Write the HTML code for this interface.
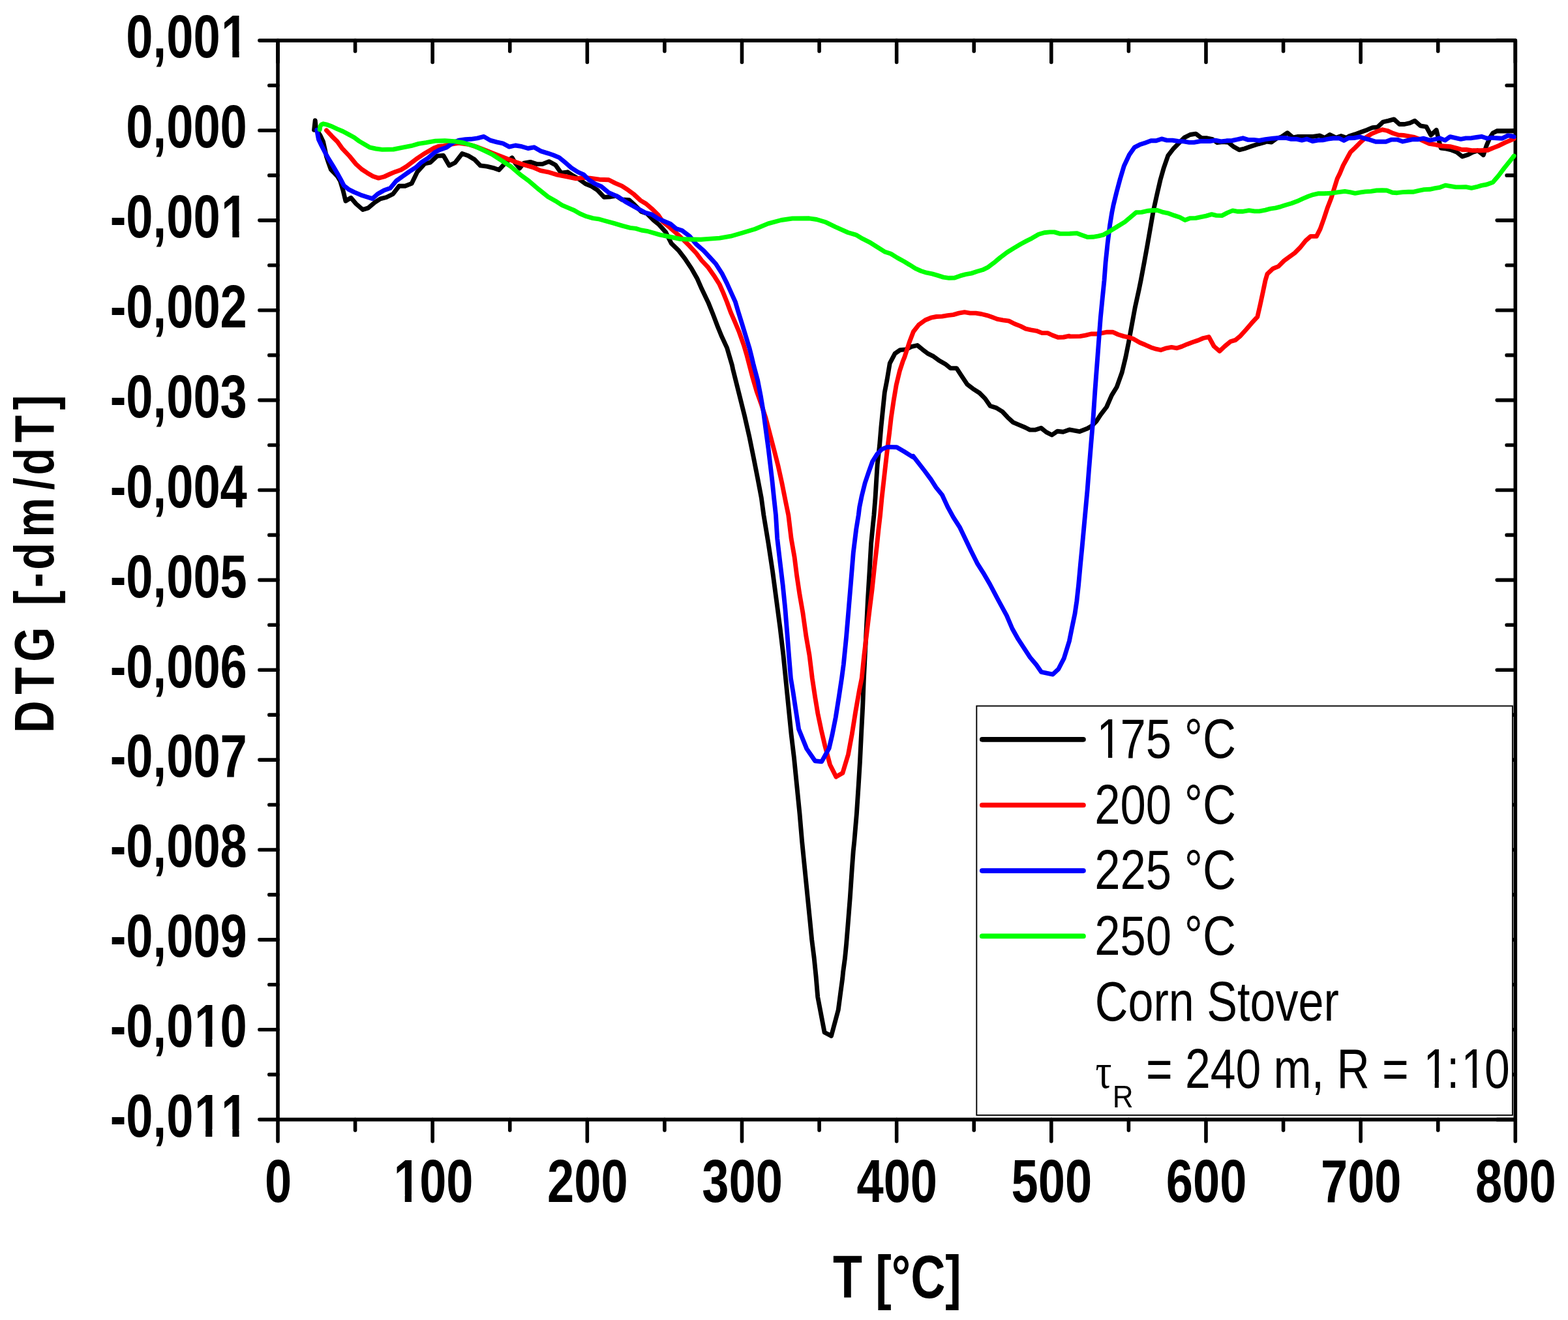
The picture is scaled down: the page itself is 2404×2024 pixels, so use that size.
<!DOCTYPE html>
<html lang="en">
<head>
<meta charset="utf-8">
<title>DTG curves - Corn Stover</title>
<style>
html, body { margin: 0; padding: 0; background: #ffffff; }
body { width: 2404px; height: 2024px; }
svg { display: block; }
</style>
</head>
<body>
<svg width="2404" height="2024" viewBox="0 0 2404 2024">
<rect x="0" y="0" width="2404" height="2024" fill="#fff"/>
<g stroke="#000" stroke-width="5.6" stroke-linecap="round" fill="none">
<path d="M426.0 62.1H2323.3 M426.0 1716.6H2323.3 M426.0 62.1V1716.6 M2323.3 62.1V1716.6"/>
<path d="M426.00 1716.6v33.4 M426.00 62.1v33.4 M544.58 1716.6v16.3 M544.58 62.1v16.3 M663.16 1716.6v33.4 M663.16 62.1v33.4 M781.74 1716.6v16.3 M781.74 62.1v16.3 M900.33 1716.6v33.4 M900.33 62.1v33.4 M1018.91 1716.6v16.3 M1018.91 62.1v16.3 M1137.49 1716.6v33.4 M1137.49 62.1v33.4 M1256.07 1716.6v16.3 M1256.07 62.1v16.3 M1374.65 1716.6v33.4 M1374.65 62.1v33.4 M1493.23 1716.6v16.3 M1493.23 62.1v16.3 M1611.81 1716.6v33.4 M1611.81 62.1v33.4 M1730.39 1716.6v16.3 M1730.39 62.1v16.3 M1848.97 1716.6v33.4 M1848.97 62.1v33.4 M1967.56 1716.6v16.3 M1967.56 62.1v16.3 M2086.14 1716.6v33.4 M2086.14 62.1v33.4 M2204.72 1716.6v16.3 M2204.72 62.1v16.3 M2323.30 1716.6v33.4 M2323.30 62.1v33.4 M426.0 62.10h-28.1 M2323.3 62.10h-28.1 M426.0 131.04h-13.2 M2323.3 131.04h-13.2 M426.0 199.97h-28.1 M2323.3 199.97h-28.1 M426.0 268.91h-13.2 M2323.3 268.91h-13.2 M426.0 337.85h-28.1 M2323.3 337.85h-28.1 M426.0 406.79h-13.2 M2323.3 406.79h-13.2 M426.0 475.73h-28.1 M2323.3 475.73h-28.1 M426.0 544.66h-13.2 M2323.3 544.66h-13.2 M426.0 613.60h-28.1 M2323.3 613.60h-28.1 M426.0 682.54h-13.2 M2323.3 682.54h-13.2 M426.0 751.48h-28.1 M2323.3 751.48h-28.1 M426.0 820.41h-13.2 M2323.3 820.41h-13.2 M426.0 889.35h-28.1 M2323.3 889.35h-28.1 M426.0 958.29h-13.2 M2323.3 958.29h-13.2 M426.0 1027.22h-28.1 M2323.3 1027.22h-28.1 M426.0 1096.16h-13.2 M2323.3 1096.16h-13.2 M426.0 1165.10h-28.1 M2323.3 1165.10h-28.1 M426.0 1234.04h-13.2 M2323.3 1234.04h-13.2 M426.0 1302.97h-28.1 M2323.3 1302.97h-28.1 M426.0 1371.91h-13.2 M2323.3 1371.91h-13.2 M426.0 1440.85h-28.1 M2323.3 1440.85h-28.1 M426.0 1509.79h-13.2 M2323.3 1509.79h-13.2 M426.0 1578.72h-28.1 M2323.3 1578.72h-28.1 M426.0 1647.66h-13.2 M2323.3 1647.66h-13.2 M426.0 1716.60h-28.1 M2323.3 1716.60h-28.1"/>
</g>
<g fill="none" stroke-linejoin="round" stroke-linecap="round" stroke-width="6.9">
<path d="M481.6 199.2 L483.2 184.6 L484.5 197.5 L490.8 207.3 L495.5 217.3 L498.1 228.7 L500.5 240.2 L503.8 250.2 L507.3 259.9 L517.3 270.3 L521.6 277.4 L525.9 291.7 L529.9 308.2 L538.0 303.2 L545.9 312.5 L556.2 321.5 L564.5 318.9 L574.6 310.4 L583.1 304.9 L592.5 302.5 L602.5 297.5 L611.8 285.3 L621.1 285.3 L631.1 281.4 L639.7 263.8 L651.2 250.9 L659.8 249.1 L670.5 239.1 L679.8 238.5 L688.7 253.8 L697.7 249.5 L708.5 235.6 L717.8 238.8 L727.8 244.8 L736.4 253.8 L746.4 255.2 L755.8 257.3 L765.1 260.5 L775.8 248.7 L785.1 241.9 L790.1 250.2 L796.6 258.0 L803.0 250.2 L813.0 248.4 L823.0 251.6 L831.6 251.6 L841.7 247.6 L851.7 253.0 L860.3 265.2 L870.3 263.8 L877.5 268.8 L887.5 274.5 L897.5 281.7 L906.1 285.2 L916.1 291.7 L926.2 302.4 L936.2 301.7 L944.8 300.3 L953.4 306.0 L964.8 306.7 L973.4 314.6 L983.4 324.6 L992.0 327.5 L1002.0 337.5 L1010.6 344.7 L1020.7 356.1 L1029.3 373.3 L1040.1 383.7 L1050.1 396.6 L1060.1 411.6 L1068.7 426.7 L1075.9 443.1 L1085.9 463.9 L1093.1 481.8 L1100.2 500.4 L1106.0 514.8 L1114.6 533.4 L1118.8 547.7 L1122.4 560.0 L1123.6 565.8 L1132.2 600.1 L1141.5 637.4 L1148.7 668.9 L1155.1 700.4 L1161.6 733.3 L1167.3 763.4 L1170.9 790.0 L1178.0 833.0 L1184.5 875.9 L1190.2 918.9 L1195.9 961.8 L1201.0 1004.8 L1204.5 1040.0 L1208.8 1083.0 L1213.1 1125.9 L1217.4 1161.7 L1221.7 1204.7 L1226.0 1247.6 L1229.6 1290.0 L1233.9 1333.0 L1238.2 1375.9 L1241.8 1411.7 L1244.6 1440.4 L1248.2 1469.0 L1251.1 1497.6 L1253.7 1528.6 L1264.1 1583.0 L1274.5 1588.4 L1285.2 1548.7 L1288.8 1521.5 L1291.7 1500.0 L1292.6 1490.5 L1295.5 1469.0 L1297.6 1447.5 L1300.5 1411.7 L1303.3 1375.9 L1306.2 1333.0 L1308.3 1304.3 L1309.8 1290.0 L1313.4 1247.6 L1316.2 1204.7 L1318.4 1168.9 L1320.5 1125.9 L1322.7 1083.0 L1324.4 1040.0 L1326.2 1004.8 L1328.4 961.8 L1330.5 918.9 L1333.1 875.9 L1335.6 833.0 L1338.4 804.3 L1339.9 790.0 L1342.0 763.4 L1343.4 740.5 L1345.2 711.8 L1348.5 683.2 L1350.9 654.6 L1353.8 625.9 L1356.3 601.6 L1359.9 583.0 L1364.2 557.2 L1372.1 542.1 L1380.0 536.6 L1388.6 535.9 L1397.2 531.6 L1406.5 529.5 L1414.4 535.9 L1423.0 542.4 L1431.5 546.7 L1440.1 553.1 L1450.2 558.8 L1457.3 564.6 L1466.6 564.6 L1473.1 574.6 L1483.1 589.6 L1491.7 596.1 L1501.7 602.5 L1510.3 611.1 L1518.2 622.5 L1527.5 625.4 L1536.8 631.1 L1544.7 639.7 L1553.3 647.6 L1563.3 651.9 L1571.9 655.5 L1579.0 659.1 L1587.6 659.1 L1596.2 656.2 L1604.1 662.6 L1612.7 667.0 L1621.3 661.2 L1629.9 662.2 L1637.8 659.4 L1640.0 658.8 L1655.0 661.7 L1667.2 657.0 L1674.4 652.7 L1680.8 646.2 L1687.3 636.2 L1696.6 624.0 L1704.4 606.1 L1712.3 593.2 L1720.2 571.0 L1725.9 547.4 L1730.2 525.9 L1735.2 498.7 L1740.2 471.5 L1746.2 444.3 L1749.1 430.0 L1754.1 403.4 L1758.8 377.6 L1763.3 351.8 L1768.3 323.2 L1774.0 297.4 L1779.0 275.9 L1784.3 257.3 L1790.8 238.7 L1799.0 228.0 L1807.5 219.4 L1816.1 210.8 L1824.7 206.5 L1833.3 205.1 L1841.9 211.5 L1850.5 211.8 L1859.1 213.7 L1866.2 218.7 L1874.8 217.5 L1883.4 218.4 L1890.6 224.4 L1899.9 229.8 L1907.8 228.0 L1919.2 224.1 L1929.3 220.8 L1940.0 217.9 L1941.5 217.0 L1949.4 218.0 L1957.3 212.2 L1964.4 210.1 L1973.8 203.7 L1982.3 210.8 L1990.2 209.4 L2000.2 209.4 L2013.1 209.4 L2023.2 207.9 L2031.0 211.5 L2038.9 206.5 L2048.2 211.2 L2056.1 208.4 L2064.7 211.5 L2068.4 208.8 L2077.6 205.9 L2086.7 202.5 L2095.9 199.2 L2104.3 195.6 L2111.9 195.0 L2120.4 187.0 L2128.8 185.2 L2137.2 182.9 L2145.6 190.5 L2153.2 190.5 L2161.6 188.6 L2169.2 185.2 L2177.6 192.8 L2186.8 194.3 L2193.7 207.2 L2202.2 199.4 L2207.5 221.0 L2209.2 227.0 L2217.5 228.1 L2225.2 230.0 L2232.9 232.9 L2242.0 240.1 L2250.7 237.2 L2257.9 233.4 L2265.7 230.9 L2274.3 237.7 L2279.1 223.2 L2284.0 211.7 L2288.8 204.0 L2294.6 201.1 L2304.2 201.1 L2313.8 201.1 L2320.6 200.8" stroke="#000000"/>
<path d="M500.5 199.8 L508.7 208.7 L517.3 217.3 L524.4 227.3 L535.9 239.5 L545.9 251.7 L554.5 259.5 L563.1 265.2 L571.7 270.3 L580.3 273.1 L588.9 271.0 L597.5 267.0 L606.1 263.4 L614.6 260.5 L623.2 255.2 L631.8 248.8 L640.4 242.3 L649.0 236.6 L657.6 231.6 L666.2 226.6 L671.9 224.4 L680.5 223.7 L689.1 221.6 L703.4 219.3 L717.8 221.3 L732.1 225.6 L746.4 231.3 L754.3 234.4 L768.6 239.9 L780.1 244.4 L791.5 248.7 L804.4 253.0 L817.3 256.6 L828.8 261.6 L840.2 263.8 L854.6 268.1 L868.9 270.9 L883.2 273.8 L894.6 272.4 L904.7 273.1 L919.0 275.2 L933.3 275.7 L943.3 280.9 L953.4 285.2 L963.4 291.7 L972.0 298.1 L982.0 307.4 L990.6 312.5 L1000.6 321.1 L1009.2 329.6 L1016.4 340.4 L1026.4 348.3 L1035.0 355.9 L1047.3 367.3 L1057.3 377.3 L1067.3 388.0 L1075.9 399.5 L1085.9 410.2 L1094.5 422.4 L1103.1 436.0 L1108.8 448.9 L1114.6 463.2 L1120.3 478.9 L1126.0 491.8 L1133.2 509.0 L1140.3 529.1 L1144.6 543.4 L1148.9 560.0 L1153.4 577.2 L1160.1 600.1 L1167.3 620.2 L1173.8 640.2 L1180.2 664.6 L1187.3 691.8 L1193.1 714.7 L1198.8 740.5 L1204.5 769.1 L1208.8 790.0 L1213.1 825.8 L1218.1 854.4 L1221.7 883.1 L1226.0 911.7 L1231.0 940.4 L1236.0 976.2 L1241.0 1004.8 L1245.3 1040.0 L1249.6 1068.6 L1253.9 1094.4 L1259.0 1118.8 L1264.7 1143.1 L1272.5 1172.5 L1281.9 1191.1 L1291.9 1185.3 L1300.5 1156.7 L1306.2 1125.9 L1311.9 1090.1 L1317.7 1057.2 L1321.2 1040.0 L1324.8 1004.8 L1329.1 969.0 L1333.4 933.2 L1337.0 904.6 L1340.6 870.2 L1344.2 838.7 L1347.0 811.5 L1349.5 790.0 L1352.0 763.4 L1354.9 737.6 L1357.8 711.8 L1360.6 687.5 L1363.5 664.6 L1366.3 640.2 L1370.1 614.5 L1374.2 590.1 L1379.4 568.6 L1384.1 554.3 L1386.9 547.4 L1389.7 538.8 L1394.3 524.5 L1400.3 508.7 L1408.6 498.0 L1418.7 490.8 L1427.3 487.2 L1435.8 485.5 L1444.4 485.1 L1453.0 483.6 L1461.6 482.6 L1470.2 480.1 L1478.8 478.6 L1487.4 480.1 L1496.0 480.1 L1504.6 481.5 L1513.2 483.6 L1521.8 486.5 L1529.6 489.4 L1537.5 490.8 L1546.8 492.2 L1555.4 496.5 L1564.7 500.1 L1572.6 504.1 L1580.5 505.9 L1589.1 507.3 L1597.7 510.6 L1606.2 510.6 L1613.4 514.0 L1622.0 517.3 L1630.6 517.0 L1639.2 515.2 L1640.0 515.9 L1655.8 515.6 L1664.3 514.1 L1672.9 512.0 L1681.5 512.0 L1688.7 510.9 L1697.3 509.2 L1705.9 509.2 L1714.5 513.0 L1723.0 515.6 L1730.2 517.1 L1737.4 519.5 L1747.4 525.2 L1756.0 528.8 L1764.6 532.7 L1772.5 535.2 L1779.6 536.7 L1788.2 533.8 L1796.1 532.4 L1804.4 533.8 L1811.8 531.4 L1820.4 527.7 L1829.0 524.5 L1836.9 521.9 L1844.8 518.5 L1853.4 516.6 L1861.2 531.0 L1869.8 538.4 L1877.7 531.0 L1886.3 523.8 L1894.2 521.4 L1902.0 514.8 L1910.6 505.2 L1919.2 495.2 L1927.8 485.9 L1932.1 467.2 L1936.4 447.2 L1940.0 430.0 L1943.0 420.0 L1951.5 412.0 L1960.1 408.4 L1968.7 399.8 L1977.3 393.4 L1985.2 387.7 L1993.1 379.8 L2001.7 369.1 L2009.4 362.4 L2018.4 362.4 L2024.1 351.1 L2029.8 335.2 L2035.4 318.2 L2041.1 303.5 L2045.6 288.8 L2050.2 274.0 L2054.1 266.1 L2059.3 253.6 L2066.5 240.5 L2070.5 233.3 L2077.6 226.5 L2085.2 218.8 L2093.6 211.2 L2102.8 205.1 L2111.2 201.6 L2119.6 198.8 L2127.2 200.5 L2135.6 204.3 L2144.0 207.0 L2151.7 207.4 L2160.1 208.9 L2168.5 210.4 L2174.6 212.7 L2191.4 220.4 L2201.3 221.9 L2209.7 223.8 L2223.2 224.7 L2232.9 227.1 L2241.6 229.5 L2248.3 229.5 L2257.9 230.8 L2270.5 230.8 L2281.1 230.2 L2289.7 226.6 L2298.4 223.2 L2308.1 218.4 L2315.8 215.1 L2321.1 212.8" stroke="#ff0000"/>
<path d="M485.8 199.2 L487.2 207.3 L488.4 213.7 L492.6 222.4 L498.1 233.3 L503.5 243.1 L510.6 254.5 L517.3 266.0 L522.1 274.6 L527.3 284.6 L534.5 290.3 L543.0 294.6 L553.1 298.9 L561.7 301.8 L571.0 304.6 L578.9 297.5 L588.9 291.7 L598.2 288.6 L607.5 277.4 L617.5 270.3 L627.5 263.1 L637.6 256.7 L646.2 248.8 L656.2 242.3 L666.2 233.8 L674.8 229.4 L684.8 225.9 L694.8 218.7 L703.4 215.1 L713.5 213.7 L722.0 213.3 L732.1 211.8 L741.8 209.4 L751.5 215.1 L761.5 217.9 L770.8 219.8 L780.8 225.1 L790.1 223.0 L800.1 224.7 L809.5 227.5 L818.8 225.8 L828.8 231.6 L840.2 235.1 L848.8 238.0 L857.4 241.6 L866.0 248.7 L876.0 257.3 L886.1 263.8 L894.6 267.6 L903.2 275.9 L911.8 281.7 L921.9 286.0 L933.3 295.3 L947.6 301.7 L960.5 310.3 L974.8 318.2 L989.2 326.1 L999.2 328.9 L1009.2 335.4 L1019.2 339.7 L1027.8 343.2 L1036.4 350.4 L1045.8 353.6 L1057.3 362.2 L1067.3 374.4 L1078.8 384.4 L1088.8 395.2 L1097.4 404.5 L1107.4 420.2 L1114.6 434.6 L1121.7 450.3 L1127.5 463.2 L1131.7 477.5 L1137.5 496.1 L1143.2 514.8 L1148.9 533.4 L1152.5 547.7 L1155.4 560.0 L1161.6 583.0 L1166.6 608.7 L1170.9 634.5 L1174.5 661.7 L1178.0 687.5 L1180.9 711.8 L1183.8 736.2 L1186.6 763.4 L1189.5 790.0 L1191.7 825.8 L1195.9 861.6 L1200.2 897.4 L1203.8 933.2 L1206.7 969.0 L1209.5 1004.8 L1212.4 1040.0 L1216.0 1061.5 L1220.3 1090.1 L1224.6 1118.0 L1236.8 1148.1 L1249.6 1166.7 L1259.7 1167.9 L1271.1 1147.4 L1276.1 1125.9 L1281.2 1100.1 L1286.2 1068.6 L1290.5 1040.0 L1293.3 1019.1 L1297.6 976.2 L1301.2 933.2 L1304.8 890.2 L1308.3 847.3 L1312.7 811.5 L1316.2 790.0 L1317.7 777.7 L1321.2 760.5 L1326.2 740.5 L1332.0 723.3 L1337.7 707.5 L1344.9 696.1 L1352.0 688.9 L1360.6 685.4 L1374.9 685.8 L1386.4 692.5 L1400.0 701.1 L1400.0 699.3 L1417.2 721.5 L1427.3 735.1 L1435.1 747.3 L1444.4 758.8 L1453.0 777.4 L1461.6 793.1 L1471.7 808.9 L1480.2 826.8 L1488.8 844.7 L1498.8 864.7 L1507.5 878.3 L1517.5 895.5 L1531.5 922.0 L1543.4 943.9 L1552.0 964.0 L1561.1 980.2 L1579.2 1007.9 L1588.8 1019.3 L1596.4 1030.3 L1614.1 1034.1 L1622.7 1026.0 L1631.3 1009.3 L1639.4 983.0 L1643.2 964.0 L1648.0 941.0 L1650.8 922.0 L1653.5 897.7 L1656.4 866.2 L1659.2 837.5 L1662.1 806.0 L1665.0 774.5 L1667.1 751.6 L1669.3 723.0 L1671.4 697.2 L1672.8 680.0 L1675.8 644.8 L1678.7 601.8 L1680.8 573.2 L1683.0 544.6 L1685.1 515.9 L1687.3 487.3 L1690.1 458.6 L1693.0 430.0 L1695.1 402.0 L1698.1 373.3 L1701.7 344.7 L1704.7 326.1 L1707.0 314.6 L1711.9 294.6 L1717.3 274.5 L1723.3 254.5 L1731.4 237.3 L1739.5 225.8 L1747.4 221.8 L1756.0 218.9 L1764.6 215.8 L1772.5 215.8 L1781.0 212.9 L1788.9 215.1 L1797.5 215.1 L1806.1 216.5 L1814.7 216.9 L1823.3 218.4 L1830.5 218.4 L1840.5 216.5 L1854.8 216.5 L1863.4 215.1 L1872.0 216.9 L1880.6 215.8 L1889.2 215.5 L1897.8 213.7 L1905.6 211.8 L1913.5 214.4 L1922.1 214.4 L1930.7 215.5 L1940.0 213.7 L1951.5 212.2 L1960.1 211.5 L1971.6 211.5 L1978.8 213.2 L1987.3 213.2 L1995.9 215.1 L2003.8 213.2 L2012.4 216.5 L2020.3 215.1 L2028.9 214.7 L2036.0 213.2 L2043.9 212.0 L2053.2 212.0 L2060.4 215.5 L2067.5 211.8 L2076.1 211.5 L2084.7 209.8 L2091.9 212.2 L2100.5 214.4 L2109.1 217.3 L2116.2 217.3 L2124.8 217.3 L2133.4 214.1 L2142.0 214.1 L2150.6 217.0 L2159.2 215.1 L2166.3 213.7 L2174.9 213.7 L2182.8 212.2 L2192.1 215.1 L2200.0 213.7 L2206.9 211.7 L2215.5 215.1 L2223.2 209.6 L2231.9 211.7 L2239.6 213.4 L2247.3 211.9 L2256.0 211.7 L2263.7 210.5 L2271.4 209.3 L2280.1 212.2 L2286.8 211.2 L2294.6 211.7 L2303.2 212.2 L2311.9 207.8 L2319.6 209.0 L2321.1 209.6" stroke="#0000ff"/>
<path d="M490.2 198.7 L490.9 193.8 L492.6 191.2 L495.5 189.8 L501.5 191.2 L508.7 193.8 L517.3 197.8 L525.9 201.5 L534.5 206.1 L543.0 210.8 L550.9 216.6 L558.8 221.3 L567.4 226.2 L576.0 228.0 L586.0 229.4 L603.2 229.0 L617.5 226.2 L630.4 223.7 L641.9 220.4 L653.3 218.7 L667.6 216.1 L682.0 215.8 L696.3 216.6 L710.6 219.0 L726.4 223.7 L740.7 230.2 L754.3 236.6 L768.6 245.9 L783.0 255.2 L797.3 267.4 L811.6 278.1 L825.9 290.3 L840.2 301.7 L851.7 308.2 L861.7 314.6 L871.7 318.9 L880.3 322.5 L888.9 327.5 L899.0 331.8 L909.0 334.6 L917.6 335.8 L926.2 338.2 L940.5 342.1 L954.8 346.4 L966.2 349.3 L974.8 350.4 L983.4 353.0 L993.5 354.7 L1003.5 357.6 L1012.1 360.1 L1026.4 363.0 L1043.0 366.5 L1057.3 367.0 L1074.5 367.3 L1088.8 366.1 L1103.1 365.1 L1120.3 362.2 L1137.5 357.2 L1157.5 351.2 L1177.6 342.9 L1197.6 337.5 L1214.8 335.0 L1240.6 334.8 L1252.0 336.5 L1266.3 340.8 L1280.7 347.9 L1300.0 356.5 L1312.3 360.1 L1322.7 366.2 L1333.0 371.3 L1343.3 377.7 L1357.0 386.3 L1365.6 389.0 L1375.9 395.4 L1386.2 401.0 L1394.8 406.2 L1403.4 411.7 L1412.0 415.5 L1420.6 418.2 L1429.2 419.9 L1437.8 422.4 L1446.4 425.1 L1455.0 426.3 L1463.6 426.0 L1472.2 422.9 L1480.7 420.6 L1489.3 419.1 L1497.9 416.3 L1506.5 413.8 L1515.1 409.6 L1523.7 403.1 L1534.0 394.5 L1544.3 386.8 L1554.6 380.4 L1564.9 374.2 L1573.5 369.6 L1582.1 365.3 L1592.4 359.3 L1601.0 356.7 L1609.6 355.9 L1616.5 355.9 L1625.1 358.4 L1633.7 358.4 L1640.0 358.3 L1650.7 357.6 L1658.6 360.4 L1667.2 363.6 L1675.8 363.3 L1684.4 361.9 L1691.5 360.1 L1700.1 355.4 L1711.6 348.3 L1724.5 340.4 L1733.1 333.2 L1741.7 325.8 L1750.3 325.4 L1760.3 323.2 L1767.5 322.5 L1774.6 322.5 L1783.2 325.4 L1790.4 326.8 L1800.4 330.4 L1809.0 333.2 L1816.8 337.5 L1824.7 334.6 L1833.3 334.4 L1840.5 332.9 L1849.1 331.1 L1857.7 328.6 L1864.8 330.4 L1873.4 330.6 L1882.0 326.1 L1889.9 322.9 L1897.8 324.3 L1904.9 324.3 L1914.9 322.6 L1923.5 323.9 L1930.7 323.9 L1940.0 322.1 L1947.3 320.1 L1955.8 318.9 L1963.7 316.8 L1971.6 314.3 L1980.2 311.8 L1988.8 308.6 L1997.4 304.6 L2006.0 301.0 L2013.1 298.6 L2021.7 296.7 L2030.3 296.7 L2040.3 296.3 L2050.4 294.9 L2061.8 293.4 L2069.7 294.6 L2077.6 296.3 L2086.2 294.9 L2093.3 293.9 L2101.9 293.4 L2110.5 292.0 L2119.1 291.7 L2126.2 292.0 L2134.8 295.3 L2142.0 295.7 L2150.6 294.6 L2159.2 294.3 L2166.3 294.3 L2174.9 292.4 L2183.5 290.6 L2192.1 290.3 L2200.0 288.6 L2207.8 287.3 L2216.0 284.1 L2223.2 285.4 L2231.9 286.9 L2239.6 286.9 L2247.3 286.7 L2256.0 288.3 L2263.7 286.7 L2271.4 284.4 L2279.1 283.0 L2288.8 279.6 L2297.4 269.5 L2306.1 257.9 L2313.8 248.3 L2319.6 241.1 L2321.1 239.1" stroke="#00ff00"/>
</g>
<g font-family="'Liberation Sans', sans-serif" font-weight="bold" font-size="92.4" fill="#000" style="font-kerning:none">
<g transform="translate(378.80 88.40) scale(0.802 1)"><text x="-231.226 -179.837 -154.165 -102.777 -49.518" y="0" font-size="92.4">0,001</text><g fill="#fff" stroke="none"><rect x="-45.503" y="-11.429" width="17.551" height="13.429"/><rect x="-15.274" y="-11.429" width="15.701" height="13.429"/></g></g>
<g transform="translate(378.80 226.28) scale(0.802 1)"><text x="-231.226 -179.837 -154.165 -102.777 -51.388" y="0" font-size="92.4">0,000</text></g>
<g transform="translate(378.80 364.15) scale(0.802 1)"><text x="-261.996 -231.226 -179.837 -154.165 -102.777 -49.518" y="0" font-size="92.4">-0,001</text><g fill="#fff" stroke="none"><rect x="-45.503" y="-11.429" width="17.551" height="13.429"/><rect x="-15.274" y="-11.429" width="15.701" height="13.429"/></g></g>
<g transform="translate(378.80 502.03) scale(0.802 1)"><text x="-261.996 -231.226 -179.837 -154.165 -102.777 -51.388" y="0" font-size="92.4">-0,002</text></g>
<g transform="translate(378.80 639.90) scale(0.802 1)"><text x="-261.996 -231.226 -179.837 -154.165 -102.777 -51.388" y="0" font-size="92.4">-0,003</text></g>
<g transform="translate(378.80 777.77) scale(0.802 1)"><text x="-261.996 -231.226 -179.837 -154.165 -102.777 -51.388" y="0" font-size="92.4">-0,004</text></g>
<g transform="translate(378.80 915.65) scale(0.802 1)"><text x="-261.996 -231.226 -179.837 -154.165 -102.777 -51.388" y="0" font-size="92.4">-0,005</text></g>
<g transform="translate(378.80 1053.52) scale(0.802 1)"><text x="-261.996 -231.226 -179.837 -154.165 -102.777 -51.388" y="0" font-size="92.4">-0,006</text></g>
<g transform="translate(378.80 1191.40) scale(0.802 1)"><text x="-261.996 -231.226 -179.837 -154.165 -102.777 -51.388" y="0" font-size="92.4">-0,007</text></g>
<g transform="translate(378.80 1329.27) scale(0.802 1)"><text x="-261.996 -231.226 -179.837 -154.165 -102.777 -51.388" y="0" font-size="92.4">-0,008</text></g>
<g transform="translate(378.80 1467.15) scale(0.802 1)"><text x="-261.996 -231.226 -179.837 -154.165 -102.777 -51.388" y="0" font-size="92.4">-0,009</text></g>
<g transform="translate(378.80 1605.02) scale(0.802 1)"><text x="-261.996 -231.226 -179.837 -154.165 -100.907 -51.388" y="0" font-size="92.4">-0,010</text><g fill="#fff" stroke="none"><rect x="-96.891" y="-11.429" width="17.551" height="13.429"/><rect x="-66.663" y="-11.429" width="15.701" height="13.429"/></g></g>
<g transform="translate(378.80 1742.90) scale(0.802 1)"><text x="-261.996 -231.226 -179.837 -154.165 -100.907 -49.518" y="0" font-size="92.4">-0,011</text><g fill="#fff" stroke="none"><rect x="-96.891" y="-11.429" width="17.551" height="13.429"/><rect x="-66.663" y="-11.429" width="15.701" height="13.429"/><rect x="-45.503" y="-11.429" width="17.551" height="13.429"/><rect x="-15.274" y="-11.429" width="15.701" height="13.429"/></g></g>
<g transform="translate(426.60 1843.40) scale(0.802 1)"><text x="-25.694" y="0" font-size="92.4">0</text></g>
<g transform="translate(663.76 1843.40) scale(0.802 1)"><text x="-75.212 -25.694 25.694" y="0" font-size="92.4">100</text><g fill="#fff" stroke="none"><rect x="-71.197" y="-11.429" width="17.551" height="13.429"/><rect x="-40.968" y="-11.429" width="15.701" height="13.429"/></g></g>
<g transform="translate(900.93 1843.40) scale(0.802 1)"><text x="-77.083 -25.694 25.694" y="0" font-size="92.4">200</text></g>
<g transform="translate(1138.09 1843.40) scale(0.802 1)"><text x="-77.083 -25.694 25.694" y="0" font-size="92.4">300</text></g>
<g transform="translate(1375.25 1843.40) scale(0.802 1)"><text x="-77.083 -25.694 25.694" y="0" font-size="92.4">400</text></g>
<g transform="translate(1612.41 1843.40) scale(0.802 1)"><text x="-77.083 -25.694 25.694" y="0" font-size="92.4">500</text></g>
<g transform="translate(1849.57 1843.40) scale(0.802 1)"><text x="-77.083 -25.694 25.694" y="0" font-size="92.4">600</text></g>
<g transform="translate(2086.74 1843.40) scale(0.802 1)"><text x="-77.083 -25.694 25.694" y="0" font-size="92.4">700</text></g>
<g transform="translate(2323.90 1843.40) scale(0.802 1)"><text x="-77.083 -25.694 25.694" y="0" font-size="92.4">800</text></g>
<text transform="translate(1277 1990) scale(0.797 1)" font-size="92.3">T [°C]</text>
<text transform="translate(81.9 1123.7) rotate(-90) scale(0.803 1)" font-size="85.2" x="0.00 73.57 135.79 215.03 243.33 277.25 311.17 373.40 463.98 492.28 554.50 616.73" y="0">DTG [-dm/dT]</text>
</g>
<rect x="1497.3" y="1082.5" width="821.6000000000001" height="627.4000000000001" fill="#fff" stroke="#000" stroke-width="1.9"/>
<g stroke-width="7.7" stroke-linecap="round" fill="none">
<path d="M1505.75 1133.85H1660.95" stroke="#000000"/>
<path d="M1505.75 1234.5H1660.95" stroke="#ff0000"/>
<path d="M1505.75 1335.1H1660.95" stroke="#0000ff"/>
<path d="M1505.75 1435.4H1660.95" stroke="#00ff00"/>
</g>
<g font-family="'Liberation Sans', sans-serif" font-size="85.2" fill="#000" style="font-kerning:none">
<g transform="translate(1678.25 1162.40) scale(0.829 1)"><text x="3.619 47.384 94.768 142.153 165.824 199.896" y="0" font-size="85.2">175 °C</text><g fill="#fff" stroke="none"><rect x="8.445" y="-8.365" width="16.599" height="10.365"/><rect x="32.574" y="-8.365" width="15.309" height="10.365"/></g></g>
<g transform="translate(1678.25 1262.70) scale(0.829 1)"><text x="0.000 47.384 94.768 142.153 165.824 199.896" y="0" font-size="85.2">200 °C</text></g>
<g transform="translate(1678.25 1363.20) scale(0.829 1)"><text x="0.000 47.384 94.768 142.153 165.824 199.896" y="0" font-size="85.2">225 °C</text></g>
<g transform="translate(1678.25 1463.50) scale(0.829 1)"><text x="0.000 47.384 94.768 142.153 165.824 199.896" y="0" font-size="85.2">250 °C</text></g>
<text transform="translate(1678.8 1565.1) scale(0.823 1)">Corn Stover</text>
<text transform="translate(1679.6 1667.5) scale(0.818 1)" font-family="'Liberation Serif', serif" font-size="76">τ</text>
<text transform="translate(1705.8 1698) scale(0.9 1)" font-size="49">R</text>
<g transform="translate(1756.90 1667.50) scale(0.818 1)"><text x="0.000 49.755 73.427 120.811 168.195 215.579 239.251 310.223 333.894 357.565 419.094 442.765 492.521 519.860 563.576 590.915 634.632" y="0" font-size="85.2">= 240 m, R = 1:10</text><g fill="#fff" stroke="none"><rect x="524.685" y="-8.365" width="16.599" height="10.365"/><rect x="548.814" y="-8.365" width="15.309" height="10.365"/><rect x="595.741" y="-8.365" width="16.599" height="10.365"/><rect x="619.870" y="-8.365" width="15.309" height="10.365"/></g></g>
</g>
</svg>
</body>
</html>
